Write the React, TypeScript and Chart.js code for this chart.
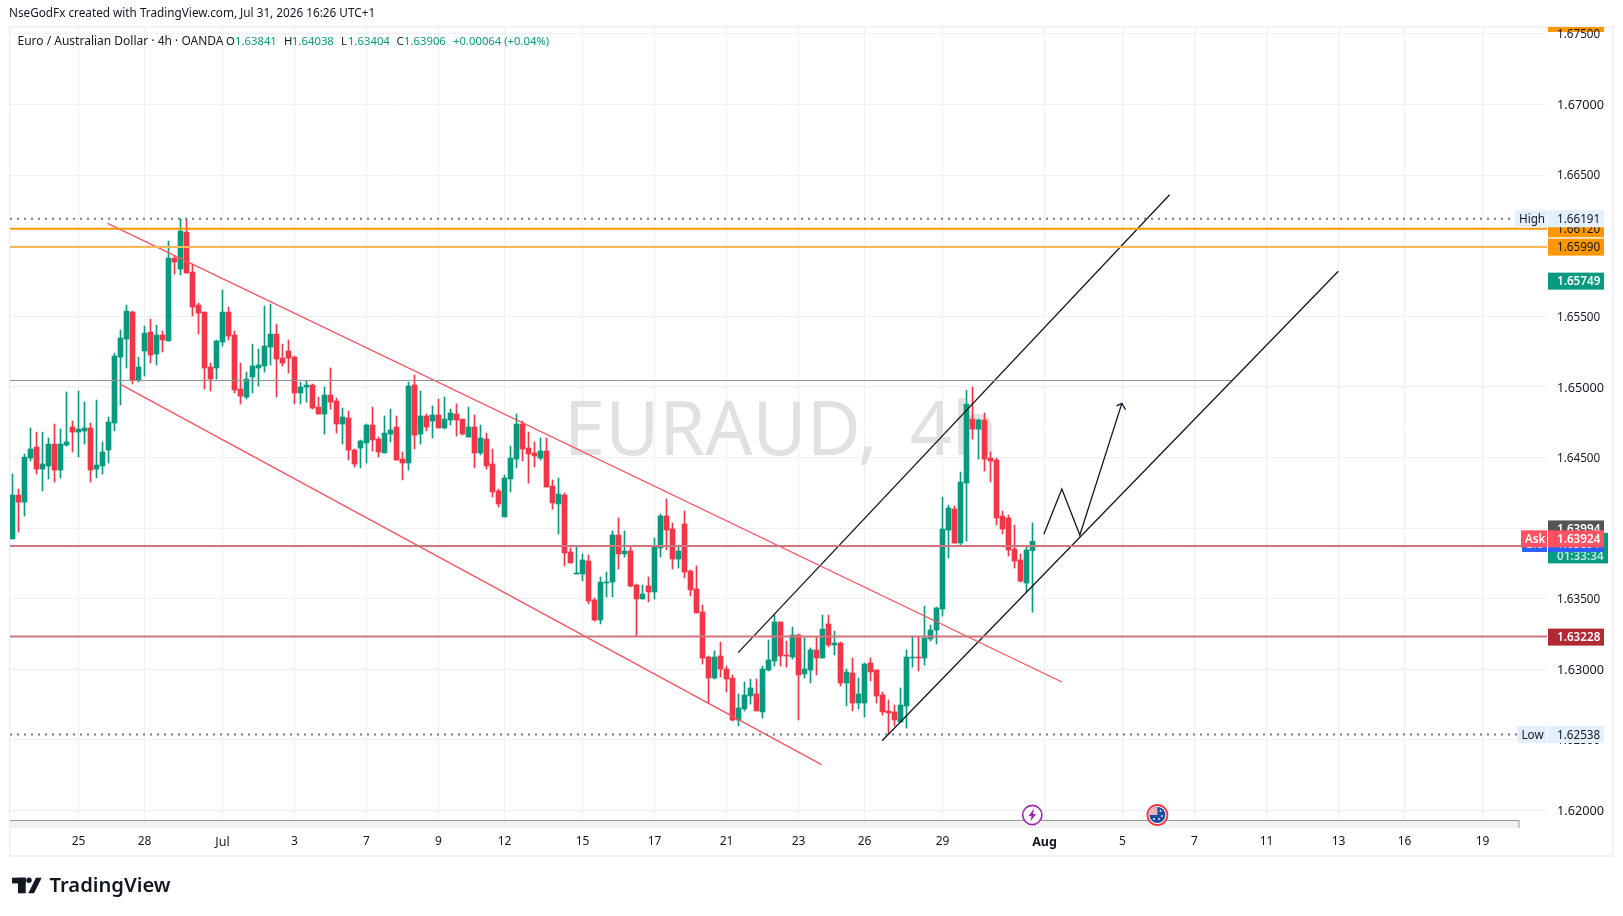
import React, { useEffect, useRef } from "react";
import { Chart, registerables } from "chart.js";

Chart.register(...registerables);

const opens = [
1.63923,1.64234,1.64184,1.64496,1.64574,1.64418,1.64440,1.64595,1.64411,1.64588,1.64716,1.64680,1.64688,1.64709,1.64418,1.64440,1.64553,1.64744,1.65211,1.65339,
1.65530,1.65049,1.65254,1.65388,1.65233,1.65367,1.65325,1.65912,1.65834,1.66096,1.65813,1.65580,1.65530,1.65141,1.65134,1.65318,1.65530,1.65367,1.64985,1.64928,
1.65070,1.65134,1.65148,1.65282,1.65374,1.65204,1.65254,1.65211,1.64957,1.64999,1.65013,1.64857,1.64808,1.64942,1.64900,1.64737,1.64780,1.64553,1.64567,1.64603,
1.64730,1.64631,1.64532,1.64666,1.64716,1.64489,1.64461,1.65013,1.64666,1.64794,1.64758,1.64801,1.64709,1.64765,1.64808,1.64772,1.64645,1.64716,1.64532,1.64631,
1.64454,1.64263,1.64079,1.64348,1.64489,1.64737,1.64567,1.64532,1.64496,1.64546,1.64298,1.64171,1.64234,1.63831,1.63675,1.63675,1.63767,1.63491,1.63349,1.63611,
1.63618,1.63951,1.63817,1.63838,1.63597,1.63498,1.63590,1.63548,1.63859,1.64086,1.63994,1.63781,1.64029,1.63696,1.63569,1.63406,1.63087,1.62938,1.63094,1.63002,
1.62938,1.62641,1.62719,1.62811,1.62825,1.62698,1.62995,1.63059,1.63335,1.63101,1.63087,1.63243,1.62967,1.62995,1.63137,1.63080,1.63321,1.63172,1.63186,1.62903,
1.62974,1.62761,1.62761,1.63045,1.62995,1.62818,1.62705,1.62698,1.62627,1.62740,1.63080,1.63087,1.63080,1.63214,1.63278,1.63427,1.63986,1.64135,1.63894,1.64319,
1.64772,1.64701,1.64765,1.64496,1.64482,1.64085,1.64071,1.63852,1.63774,1.63611,1.63841,
];
const highs = [
1.64383,1.64277,1.64524,1.64709,1.64680,1.64680,1.64638,1.64737,1.64702,1.64964,1.64758,1.64971,1.64893,1.64744,1.64907,1.64610,1.64787,1.65240,1.65403,1.65580,
1.65537,1.65211,1.65431,1.65480,1.65438,1.65396,1.66033,1.65927,1.66191,1.66191,1.65870,1.65594,1.65530,1.65169,1.65332,1.65686,1.65565,1.65396,1.65169,1.65105,
1.65303,1.65268,1.65573,1.65587,1.65445,1.65303,1.65332,1.65219,1.65034,1.65042,1.65020,1.64928,1.64999,1.65134,1.64921,1.64850,1.64829,1.64560,1.64624,1.64737,
1.64857,1.64645,1.64794,1.64843,1.64794,1.64539,1.65034,1.65084,1.64971,1.64808,1.64865,1.64914,1.64928,1.64843,1.64879,1.64772,1.64857,1.64801,1.64730,1.64673,
1.64560,1.64277,1.64376,1.64581,1.64808,1.64758,1.64680,1.64610,1.64638,1.64638,1.64341,1.64355,1.64249,1.63859,1.63866,1.63817,1.63810,1.63505,1.63654,1.63689,
1.63980,1.64072,1.63980,1.63866,1.63604,1.63597,1.63654,1.63930,1.64100,1.64206,1.64036,1.63880,1.64121,1.63703,1.63732,1.63456,1.63094,1.63130,1.63193,1.63023,
1.62960,1.62825,1.62910,1.62931,1.62931,1.63023,1.63207,1.63384,1.63335,1.63200,1.63299,1.63250,1.63222,1.63151,1.63229,1.63384,1.63384,1.63271,1.63193,1.63002,
1.63080,1.62938,1.63045,1.63080,1.62995,1.62839,1.62783,1.62747,1.62868,1.63137,1.63236,1.63236,1.63448,1.63314,1.63441,1.64220,1.64163,1.64156,1.64397,1.64977,
1.64999,1.64772,1.64815,1.64538,1.64496,1.64121,1.64092,1.64022,1.63816,1.63866,1.64038,
];
const lows = [
1.63923,1.63972,1.64085,1.64475,1.64383,1.64263,1.64348,1.64326,1.64355,1.64581,1.64539,1.64503,1.64595,1.64326,1.64355,1.64383,1.64461,1.64688,1.64872,1.65134,
1.65020,1.65034,1.65077,1.65169,1.65155,1.65247,1.65325,1.65799,1.65792,1.65806,1.65502,1.65374,1.64985,1.64971,1.65056,1.65289,1.65332,1.64957,1.64879,1.64914,
1.64957,1.65006,1.65105,1.65155,1.64928,1.65148,1.65098,1.64879,1.64879,1.64893,1.64843,1.64808,1.64666,1.64843,1.64673,1.64595,1.64482,1.64433,1.64426,1.64461,
1.64546,1.64503,1.64532,1.64610,1.64482,1.64341,1.64411,1.64560,1.64595,1.64688,1.64638,1.64709,1.64702,1.64730,1.64652,1.64659,1.64645,1.64426,1.64518,1.64418,
1.64220,1.64149,1.64079,1.64256,1.64426,1.64475,1.64319,1.64433,1.64482,1.64291,1.64135,1.63958,1.63732,1.63753,1.63675,1.63626,1.63463,1.63342,1.63321,1.63512,
1.63512,1.63710,1.63795,1.63583,1.63236,1.63498,1.63477,1.63498,1.63795,1.63845,1.63710,1.63718,1.63647,1.63519,1.63399,1.63037,1.62761,1.62931,1.62945,1.62839,
1.62634,1.62599,1.62705,1.62754,1.62705,1.62655,1.62988,1.63023,1.63023,1.63016,1.63073,1.62641,1.62938,1.62903,1.62960,1.63080,1.63158,1.63101,1.62882,1.62740,
1.62705,1.62719,1.62662,1.62917,1.62761,1.62676,1.62538,1.62599,1.62627,1.62584,1.63016,1.62988,1.63030,1.63200,1.63179,1.63377,1.63788,1.63894,1.63873,1.63908,
1.64630,1.64489,1.64404,1.64326,1.64022,1.63958,1.63802,1.63717,1.63618,1.63547,1.63404,
];
const closes = [
1.64234,1.64184,1.64503,1.64560,1.64418,1.64454,1.64595,1.64411,1.64595,1.64610,1.64680,1.64702,1.64709,1.64411,1.64447,1.64539,1.64751,1.65219,1.65346,1.65537,
1.65049,1.65141,1.65381,1.65226,1.65367,1.65332,1.65912,1.65884,1.66104,1.65806,1.65565,1.65523,1.65134,1.65056,1.65325,1.65530,1.65360,1.64978,1.64935,1.65056,
1.65148,1.65155,1.65289,1.65374,1.65197,1.65169,1.65204,1.64957,1.64999,1.65013,1.64850,1.64808,1.64942,1.64893,1.64737,1.64787,1.64553,1.64454,1.64617,1.64730,
1.64624,1.64539,1.64673,1.64695,1.64482,1.64461,1.65006,1.64659,1.64794,1.64716,1.64801,1.64709,1.64772,1.64815,1.64765,1.64666,1.64716,1.64532,1.64638,1.64440,
1.64256,1.64171,1.64355,1.64496,1.64737,1.64560,1.64525,1.64511,1.64546,1.64291,1.64178,1.64241,1.63824,1.63753,1.63682,1.63774,1.63484,1.63349,1.63618,1.63618,
1.63951,1.63817,1.63838,1.63590,1.63498,1.63533,1.63548,1.63866,1.64086,1.63987,1.63781,1.63838,1.63689,1.63562,1.63399,1.63080,1.62938,1.63087,1.63002,1.62931,
1.62641,1.62726,1.62818,1.62868,1.62705,1.63002,1.63066,1.63335,1.63094,1.63094,1.63243,1.62960,1.63002,1.63137,1.63080,1.63285,1.63172,1.63186,1.62903,1.62981,
1.62761,1.62825,1.63037,1.62981,1.62811,1.62698,1.62691,1.62641,1.62747,1.63087,1.63087,1.63080,1.63222,1.63278,1.63434,1.63993,1.64142,1.63894,1.64326,1.64878,
1.64701,1.64765,1.64489,1.64475,1.64071,1.63993,1.63845,1.63767,1.63625,1.63845,1.63906,
];

const priceTicks = [1.62, 1.625, 1.63, 1.635, 1.64, 1.645, 1.65, 1.655, 1.66, 1.665, 1.67, 1.675];
const timeTickIndex = [11, 22, 35, 47, 59, 71, 82, 95, 107, 119, 131, 142, 155, 172, 185, 197, 209, 221, 232, 245];
const timeTickLabels = ["25", "28", "Jul", "3", "7", "9", "12", "15", "17", "21", "23", "26", "29", "Aug", "5", "7", "11", "13", "16", "19"];

const highLevel = 1.66191;
const lowLevel = 1.62538;
const orangeLevelA = 1.6612;
const orangeLevelB = 1.6599;
const greyLevel = 1.65045;
const redLevelA = 1.63232;
const redLevelB = 1.63873;

const redChannelUpper = [{ x: 15.84, y: 1.66158 }, { x: 174.9, y: 1.6291 }];
const redChannelLower = [{ x: 18.0, y: 1.65018 }, { x: 134.84, y: 1.62325 }];
const blackChannelUpper = [{ x: 120.94, y: 1.63118 }, { x: 192.85, y: 1.66361 }];
const blackChannelLower = [{ x: 144.94, y: 1.62494 }, { x: 220.97, y: 1.65819 }];
const zigzag = [{ x: 171.89, y: 1.63956 }, { x: 174.89, y: 1.64277 }, { x: 177.89, y: 1.63951 }, { x: 184.89, y: 1.64883 }];
const arrowHead = [{ x: 184.0, y: 1.64866 }, { x: 184.89, y: 1.64883 }, { x: 185.5, y: 1.64838 }];

const UP = "#089981";
const DOWN = "#f23645";
const INK = "#131722";
const FONT = '"Noto Sans", sans-serif';

const X_MIN = (10 - 12.5) / 6;
const X_MAX = (1547 - 12.5) / 6;
const Y_MIN = 1.63 - (828 - 669.3) / 14120;
const Y_MAX = 1.63 + (669.3 - 27) / 14120;

function level(value: number, endIndex: number, color: string, width: number, dash?: number[]) {
  return {
    type: "line" as const,
    data: [{ x: X_MIN, y: value }, { x: endIndex, y: value }],
    borderColor: color,
    borderWidth: width,
    borderDash: dash || [],
    pointRadius: 0,
    order: 0,
  };
}
function trend(points: { x: number; y: number }[], color: string, width: number) {
  return {
    type: "line" as const,
    data: points,
    borderColor: color,
    borderWidth: width,
    pointRadius: 0,
    tension: 0,
    order: 0,
  };
}

const chromePlugin = {
  id: "chrome",
  beforeDraw(chart: any) {
    const { ctx } = chart;
    const y = chart.scales.y;
    ctx.save();
    ctx.fillStyle = "#ffffff";
    ctx.fillRect(0, 0, 1623, 916);
    ctx.fillStyle = "#f0f0f0";
    ctx.fillRect(9, 26, 1605, 1.5);
    ctx.fillRect(9, 26, 1.4, 831);
    ctx.fillRect(1612.5, 26, 1.5, 831);
    ctx.fillRect(9, 855, 1605, 2);
    ctx.beginPath();
    ctx.rect(1548, 27, 56, 20);
    ctx.clip();
    const yc = y.getPixelForValue(1.67574);
    ctx.fillStyle = "#ff9800";
    ctx.fillRect(1548, yc - 8.5, 56, 17);
    ctx.fillStyle = INK;
    ctx.font = `11.7px ${FONT}`;
    ctx.textBaseline = "middle";
    ctx.fillText("1.67574", 1557, yc);
    ctx.restore();
  },
  beforeDatasetsDraw(chart: any) {
    const { ctx } = chart;
    ctx.save();
    ctx.fillStyle = "#f2f2f2";
    ctx.fillRect(10, 821, 1509, 7);
    ctx.fillStyle = "#9a9a9a";
    ctx.fillRect(10, 820, 1509, 1);
    ctx.fillRect(1518.5, 820, 1, 8);
    ctx.fillStyle = "#e1e1e1";
    ctx.font = `74px ${FONT}`;
    ctx.textBaseline = "alphabetic";
    ctx.wordSpacing = "13px";
    ctx.fillText("EURAUD, 4h", 564, 455);
    ctx.wordSpacing = "0px";
    ctx.restore();
  },
  afterDatasetsDraw(chart: any) {
    const { ctx } = chart;
    const y = chart.scales.y;
    const pane = (x0: number, x1: number, yc: number, bg: string) => {
      ctx.fillStyle = bg;
      ctx.fillRect(x0, yc - 8.5, x1 - x0, 17);
    };
    const write = (s: string, x: number, yc: number, color: string, size = 11.7, weight = "") => {
      ctx.fillStyle = color;
      ctx.font = `${weight} ${size}px ${FONT}`;
      ctx.textBaseline = "middle";
      ctx.fillText(s, x, yc);
    };
    ctx.save();
    // price tags
    const tag = (price: number, text: string, bg: string, fg: string, weight = "") => {
      const yc = y.getPixelForValue(price);
      pane(1548, 1604, yc, bg);
      write(text, 1557, yc + 1, fg, 11.7, weight);
    };
    tag(orangeLevelA, "1.66120", "#ff9800", INK);
    tag(orangeLevelB, "1.65990", "#ff9800", INK);
    const hy = y.getPixelForValue(highLevel);
    pane(1515, 1547, hy, "#e3effd");
    write("High", 1519, hy + 1, INK);
    tag(highLevel, "1.66191", "#e3effd", INK);
    tag(1.65749, "1.65749", UP, "#ffffff", "600");
    tag(1.63228, "1.63228", "#b22833", "#ffffff", "600");
    const ly = y.getPixelForValue(lowLevel);
    pane(1517, 1547, ly, "#e3effd");
    write("Low", 1521.5, ly + 1, INK);
    tag(lowLevel, "1.62538", "#e3effd", INK);
    // stacked tags around the last price
    tag(1.63994, "1.63994", "#555555", "#ffffff", "600");
    const gy = y.getPixelForValue(1.63906);
    ctx.fillStyle = UP;
    ctx.fillRect(1548, gy - 8.5, 60, 30.5);
    write("01:33:34", 1557, gy + 15, "#bfe6de", 11.7, "600");
    const by = y.getPixelForValue(1.63891);
    pane(1522, 1547, by, "#2962ff");
    write("Bid", 1526, by + 1, "#ffffff");
    tag(1.63891, "1.63891", "#2962ff", "#ffffff");
    const ay = y.getPixelForValue(1.63924);
    pane(1521, 1547, ay, "#ff5263");
    write("Ask", 1525, ay + 1, "#ffffff", 11.7, "600");
    tag(1.63924, "1.63924", "#ff5263", "#ffffff", "600");

    // header text
    write("NseGodFx created with TradingView.com, Jul 31, 2026 16:26 UTC+1", 9, 14, INK, 11.75);
    write("Euro / Australian Dollar · 4h · OANDA", 17.5, 42, INK, 12);
    const legend: [string, number, string][] = [
      ["O", 226, INK], ["1.63841", 235, UP], ["H", 284, INK], ["1.64038", 292, UP],
      ["L", 341, INK], ["1.63404", 348, UP], ["C", 396.5, INK], ["1.63906", 404, UP],
      ["+0.00064 (+0.04%)", 453, UP],
    ];
    legend.forEach(([s, x, c]) => write(s, x, 42, c, 11.3));

    // logo
    ctx.fillStyle = "#131722";
    ctx.fillRect(12, 877.7, 13.7, 5.7);
    ctx.fillRect(18, 877.7, 7.7, 15.6);
    ctx.beginPath();
    ctx.arc(29, 880.3, 2.7, 0, Math.PI * 2);
    ctx.fill();
    ctx.beginPath();
    ctx.moveTo(36, 877.7);
    ctx.lineTo(41.7, 877.7);
    ctx.lineTo(34, 893.3);
    ctx.lineTo(28.3, 893.3);
    ctx.closePath();
    ctx.fill();
    write("TradingView", 49.5, 886.5, INK, 20.2, "600");

    // event markers
    ctx.lineWidth = 1.6;
    ctx.beginPath();
    ctx.arc(1032.3, 815, 9.6, 0, Math.PI * 2);
    ctx.fillStyle = "#ffffff";
    ctx.fill();
    ctx.strokeStyle = "#9c27b0";
    ctx.stroke();
    ctx.fillStyle = "#9c27b0";
    ctx.beginPath();
    ctx.moveTo(1034, 808.5);
    ctx.lineTo(1028.5, 816);
    ctx.lineTo(1031.5, 816);
    ctx.lineTo(1030.5, 821.5);
    ctx.lineTo(1036, 814);
    ctx.lineTo(1033, 814);
    ctx.closePath();
    ctx.fill();
    ctx.beginPath();
    ctx.arc(1157.4, 815, 10, 0, Math.PI * 2);
    ctx.fillStyle = "#ffffff";
    ctx.fill();
    ctx.strokeStyle = "#f23645";
    ctx.lineWidth = 1.8;
    ctx.stroke();
    ctx.beginPath();
    ctx.arc(1157.4, 815, 8, 0, Math.PI * 2);
    ctx.fillStyle = "#1d4e9e";
    ctx.fill();
    ctx.fillStyle = "#e8b4b8";
    ctx.beginPath();
    ctx.moveTo(1157.4, 815);
    ctx.arc(1157.4, 815, 8, Math.PI, Math.PI * 1.5);
    ctx.closePath();
    ctx.fill();
    ctx.fillStyle = "#ffffff";
    [[1160.5, 811], [1162, 816], [1159, 819], [1154, 819]].forEach(([sx, sy]) => {
      ctx.fillRect(sx - 0.8, sy - 0.8, 1.6, 1.6);
    });
    ctx.restore();
  },
};

export default function App() {
  const ref = useRef<HTMLCanvasElement | null>(null);
  useEffect(() => {
    if (!ref.current) return;
    const index = opens.map((_, i) => i);
    const colors = index.map((i) => (closes[i] >= opens[i] ? UP : DOWN));
    const chart = new Chart(ref.current, {
      type: "bar",
      data: {
        datasets: [
          level(highLevel, (1515 - 12.5) / 6, "#787b86", 2, [2, 5]),
          level(lowLevel, (1517 - 12.5) / 6, "#787b86", 2, [2, 5]),
          level(orangeLevelA, X_MAX, "#ff9800", 2),
          level(orangeLevelB, X_MAX, "#fdb85a", 2),
          level(greyLevel, (1231 - 12.5) / 6, "#8f8f8f", 1),
          level(redLevelA, X_MAX, "#cf757d", 2),
          level(redLevelB, X_MAX, "#cf757d", 2),
          trend(redChannelUpper, "#f7525f", 1.3),
          trend(redChannelLower, "#f7525f", 1.3),
          trend(blackChannelUpper, "#131722", 1.3),
          trend(blackChannelLower, "#131722", 1.3),
          trend(zigzag, "#131722", 1.3),
          trend(arrowHead, "#131722", 1.3),
          {
            type: "bar" as const,
            data: index.map((i) => ({ x: i, y: [lows[i], highs[i]] })),
            backgroundColor: colors,
            barThickness: 1,
            order: 2,
          },
          {
            type: "bar" as const,
            data: index.map((i) => ({
              x: i,
              y: [Math.min(opens[i], closes[i]), Math.max(opens[i], closes[i])],
            })),
            backgroundColor: colors,
            barThickness: 5,
            minBarLength: 1,
            order: 1,
          },
        ] as any,
      },
      plugins: [chromePlugin],
      options: {
        responsive: false,
        animation: false,
        events: [],
        layout: { padding: { left: 10, top: 27, right: 0, bottom: 0 } },
        datasets: { bar: { grouped: false } } as any,
        plugins: { legend: { display: false }, tooltip: { enabled: false } },
        scales: {
          x: {
            type: "linear",
            min: X_MIN,
            max: X_MAX,
            offset: false,
            afterBuildTicks(scale: any) {
              scale.ticks = timeTickIndex.map((value) => ({ value }));
            },
            afterFit(scale: any) {
              scale.height = 88;
            },
            grid: { color: "#f0f0f0", lineWidth: 1, drawTicks: false, offset: false },
            border: { display: false },
            ticks: {
              autoSkip: false,
              maxRotation: 0,
              padding: 6.5,
              color: INK,
              font: (c: any) => {
                const label = timeTickLabels[timeTickIndex.indexOf(c.tick?.value)];
                return {
                  family: FONT,
                  size: label === "Aug" || label === "Jul" ? 12.5 : 12,
                  weight: label === "Aug" ? "bold" : "normal",
                };
              },
              callback: (v: any) => timeTickLabels[timeTickIndex.indexOf(v)] ?? "",
            },
          },
          y: {
            type: "linear",
            position: "right",
            min: Y_MIN,
            max: Y_MAX,
            afterBuildTicks(scale: any) {
              scale.ticks = priceTicks.map((value) => ({ value }));
            },
            afterFit(scale: any) {
              scale.width = 76;
            },
            grid: { color: "#f0f0f0", lineWidth: 1, drawTicks: false },
            border: { display: false },
            ticks: {
              padding: 10,
              labelOffset: 1,
              color: INK,
              font: (c: any) => {
                const round = Math.abs(Math.round((c.tick?.value ?? 0) * 100) - (c.tick?.value ?? 0) * 100) < 1e-6;
                return { family: FONT, size: round ? 12.7 : 11.7 };
              },
              callback: (v: any) => Number(v).toFixed(5),
            },
          },
        },
      },
    });
    return () => chart.destroy();
  }, []);
  return (
    <div style={{ position: "fixed", left: 0, top: 0, width: 1623, height: 916, background: "#fff" }}>
      <canvas ref={ref} width={1623} height={916} style={{ display: "block" }} />
    </div>
  );
}
